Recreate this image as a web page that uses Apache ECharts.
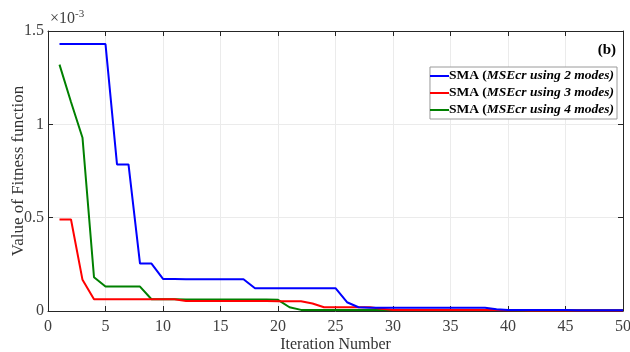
<!DOCTYPE html>
<html>
<head>
<meta charset="utf-8">
<script src="https://cdn.jsdelivr.net/npm/echarts@6/dist/echarts.min.js"></script>
<style>
  html, body { margin: 0; padding: 0; background: #fff; }
  #chart { width: 630px; height: 352px; }
</style>
</head>
<body>
<div id="chart"></div>
<script>
// Iterations 1..50; fitness values in units of 1e-3
const iterations = Array.from({ length: 50 }, (_, i) => i + 1);

const sma2Modes = [
  1.43, 1.43, 1.43, 1.43, 1.43, 0.785, 0.785, 0.254, 0.254, 0.172,
  0.172, 0.170, 0.170, 0.170, 0.170, 0.170, 0.170, 0.122, 0.122, 0.122,
  0.122, 0.122, 0.122, 0.122, 0.122, 0.047, 0.020, 0.018, 0.018, 0.018,
  0.018, 0.018, 0.018, 0.018, 0.018, 0.018, 0.018, 0.018, 0.009, 0.005,
  0.005, 0.005, 0.005, 0.005, 0.005, 0.004, 0.004, 0.004, 0.004, 0.004
];

const sma3Modes = [
  0.49, 0.49, 0.167, 0.063, 0.063, 0.063, 0.063, 0.063, 0.063, 0.063,
  0.063, 0.053, 0.053, 0.053, 0.053, 0.053, 0.053, 0.053, 0.053, 0.052,
  0.052, 0.052, 0.040, 0.020, 0.020, 0.020, 0.020, 0.020, 0.012, 0.006,
  0.006, 0.006, 0.006, 0.006, 0.006, 0.006, 0.006, 0.006, 0.005, 0.004,
  0.004, 0.003, 0.003, 0.003, 0.003, 0.003, 0.003, 0.003, 0.003, 0.003
];

const sma4Modes = [
  1.32, 1.12, 0.928, 0.181, 0.131, 0.131, 0.131, 0.131, 0.063, 0.063,
  0.063, 0.061, 0.061, 0.061, 0.061, 0.061, 0.061, 0.061, 0.061, 0.060,
  0.020, 0.006, 0.005, 0.005, 0.005, 0.005, 0.005, 0.005, 0.005, 0.005,
  0.005, 0.005, 0.005, 0.005, 0.005, 0.005, 0.005, 0.005, 0.005, 0.005,
  0.004, 0.004, 0.004, 0.004, 0.004, 0.004, 0.004, 0.004, 0.004, 0.004
];

const xTicks = { min: 0, max: 50, interval: 5 };
const yTicks = { min: 0, max: 1.5, interval: 0.5 };

const seriesNames = ['2 modes', '3 modes', '4 modes'];
const seriesValues = [sma2Modes, sma3Modes, sma4Modes];
const seriesColors = ['#0000ff', '#ff0000', '#008000'];

const FONT = 'Liberation Serif';
const AXIS_COLOR = '#262626';
const GRID_COLOR = '#ebebeb';

const chart = echarts.init(document.getElementById('chart'), null, { renderer: 'canvas' });

const baseAxis = {
  axisLine: { show: true, onZero: false, lineStyle: { color: AXIS_COLOR, width: 1 } },
  axisTick: { show: true, inside: true, length: 5, lineStyle: { color: AXIS_COLOR } },
  splitLine: { show: false }
};

chart.setOption({
  animation: false,
  backgroundColor: '#ffffff',
  grid: { left: 48, right: 7, top: 31, bottom: 41, containLabel: false, outerBoundsMode: 'none' },
  xAxis: [
    Object.assign({}, baseAxis, {
      type: 'value',
      min: xTicks.min, max: xTicks.max, interval: xTicks.interval,
      name: 'Iteration Number',
      nameLocation: 'middle',
      nameGap: 26,
      nameMoveOverlap: false,
      nameTextStyle: { fontFamily: FONT, fontSize: 16, color: '#333' },
      axisLabel: { fontFamily: FONT, fontSize: 16, color: '#404040', margin: 8 },
      splitLine: { show: true, lineStyle: { color: GRID_COLOR, width: 1 } }
    }),
    Object.assign({}, baseAxis, {
      type: 'value', position: 'top',
      min: xTicks.min, max: xTicks.max, interval: xTicks.interval,
      axisLabel: { show: false }
    })
  ],
  yAxis: [
    Object.assign({}, baseAxis, {
      type: 'value',
      min: yTicks.min, max: yTicks.max, interval: yTicks.interval,
      name: 'Value of Fitness function',
      nameLocation: 'middle',
      nameGap: 21,
      nameMoveOverlap: false,
      nameTextStyle: { fontFamily: FONT, fontSize: 17, color: '#333' },
      axisLabel: { fontFamily: FONT, fontSize: 16, color: '#404040', margin: 4 },
      splitLine: { show: true, lineStyle: { color: GRID_COLOR, width: 1 } }
    }),
    Object.assign({}, baseAxis, {
      type: 'value', position: 'right',
      min: yTicks.min, max: yTicks.max, interval: yTicks.interval,
      axisLabel: { show: false }
    })
  ],
  legend: {
    show: true,
    orient: 'vertical',
    right: 13,
    top: 67,
    data: seriesNames.map((n, i) => ({ name: n, icon: 'rect', itemStyle: { color: seriesColors[i] } })),
    itemWidth: 19,
    itemHeight: 2,
    itemGap: 3,
    padding: [2, 3, 2, 0],
    borderColor: '#9a9a9a',
    borderWidth: 1,
    backgroundColor: '#fff',
    formatter: (name) => '{b|SMA (}{i|MSEcr using ' + name + ')}',
    textStyle: {
      rich: {
        b: { fontFamily: FONT, fontSize: 13.5, fontWeight: 'bold', color: '#000' },
        i: { fontFamily: FONT, fontSize: 13.5, fontWeight: 'bold', fontStyle: 'italic', color: '#000' }
      },
      padding: [0, 0, 0, -5]
    }
  },
  graphic: [
    {
      type: 'text', left: 50, top: 9,
      style: {
        text: '{x|×10}{s|-3}',
        rich: {
          x: { fontFamily: FONT, fontSize: 16, fill: '#404040' },
          s: { fontFamily: FONT, fontSize: 11, fill: '#404040', verticalAlign: 'top', padding: [0, 0, 9, 0] }
        }
      }
    },
    {
      type: 'text', right: 14, top: 43,
      style: { text: '(b)', fontFamily: FONT, fontSize: 15, fontWeight: 'bold', fill: '#000' }
    }
  ],
  series: seriesNames.map((n, i) => ({
    name: n,
    type: 'line',
    xAxisIndex: 0,
    yAxisIndex: 0,
    data: iterations.map((it, k) => [it, seriesValues[i][k]]),
    showSymbol: false,
    symbol: 'none',
    lineStyle: { color: seriesColors[i], width: 2 },
    itemStyle: { color: seriesColors[i] },
    z: 3 - i
  }))
});
</script>
</body>
</html>
